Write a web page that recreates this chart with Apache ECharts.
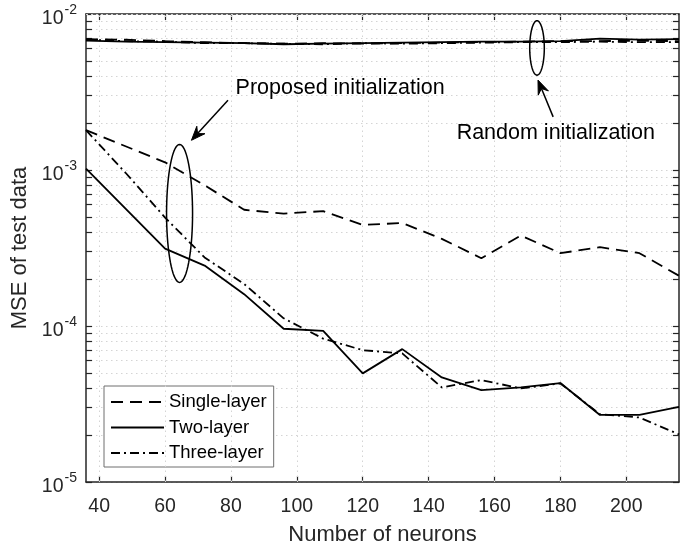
<!DOCTYPE html>
<html>
<head>
<meta charset="utf-8">
<script src="https://cdn.jsdelivr.net/npm/echarts@6/dist/echarts.min.js"></script>
<style>
html,body{margin:0;padding:0;background:#fff;}
#chart{width:688px;height:546px;}
</style>
</head>
<body>
<div id="chart"></div>
<script>
// ---------------- data ----------------
const neurons = [36, 48, 60, 72, 84, 96, 108, 120, 132, 144, 156, 168, 180, 192, 204, 216];

// proposed initialization
const singleProposed = [1.80e-3, 1.42e-3, 1.12e-3, 7.98e-4, 5.56e-4, 5.25e-4, 5.45e-4, 4.45e-4, 4.57e-4, 3.62e-4, 2.72e-4, 3.80e-4, 2.93e-4, 3.20e-4, 2.93e-4, 2.10e-4];
const twoProposed    = [1.02e-3, 5.65e-4, 3.13e-4, 2.44e-4, 1.60e-4, 9.6e-5, 9.3e-5, 4.97e-5, 7.11e-5, 4.68e-5, 3.88e-5, 4.04e-5, 4.31e-5, 2.69e-5, 2.69e-5, 3.03e-5];
const threeProposed  = [1.80e-3, 9.6e-4, 4.95e-4, 2.75e-4, 1.86e-4, 1.12e-4, 8.3e-5, 7.0e-5, 6.67e-5, 4.04e-5, 4.5e-5, 3.98e-5, 4.28e-5, 2.72e-5, 2.59e-5, 2.02e-5];

// random initialization
const singleRandom = [6.9e-3, 6.85e-3, 6.7e-3, 6.6e-3, 6.5e-3, 6.45e-3, 6.5e-3, 6.45e-3, 6.5e-3, 6.55e-3, 6.6e-3, 6.65e-3, 6.7e-3, 6.7e-3, 6.75e-3, 6.7e-3];
const twoRandom    = [6.75e-3, 6.65e-3, 6.6e-3, 6.55e-3, 6.5e-3, 6.4e-3, 6.45e-3, 6.5e-3, 6.55e-3, 6.6e-3, 6.65e-3, 6.65e-3, 6.7e-3, 6.95e-3, 6.85e-3, 6.9e-3];
const threeRandom  = [6.85e-3, 6.7e-3, 6.65e-3, 6.5e-3, 6.5e-3, 6.45e-3, 6.4e-3, 6.5e-3, 6.45e-3, 6.5e-3, 6.55e-3, 6.6e-3, 6.6e-3, 6.65e-3, 6.6e-3, 6.6e-3];

const seriesNames = ['Single-layer', 'Two-layer', 'Three-layer'];

// axes
const xTickValues = [40, 60, 80, 100, 120, 140, 160, 180, 200];
const yMajorTicks = [1e-5, 1e-4, 1e-3, 1e-2];
const yMinorTicks = [2e-5, 3e-5, 4e-5, 5e-5, 6e-5, 7e-5, 8e-5, 9e-5,
                     2e-4, 3e-4, 4e-4, 5e-4, 6e-4, 7e-4, 8e-4, 9e-4,
                     2e-3, 3e-3, 4e-3, 5e-3, 6e-3, 7e-3, 8e-3, 9e-3];
const xTitle = 'Number of neurons';
const yTitle = 'MSE of test data';

// annotations (in data coordinates)
const annotationTexts = ['Proposed initialization', 'Random initialization'];
const annotationTextAt = [[81.4, 3.35e-3], [148.5, 1.73e-3]];
const ellipseCenters = [[64.4, 5.27e-4], [172.9, 6.06e-3]];
const ellipseRadiiPx = [[13, 69], [7.3, 27.2]];
const arrowTails = [[79.1, 2.80e-3], [177.8, 2.19e-3]];
const arrowTips = [[68.0, 1.55e-3], [173.2, 3.77e-3]];

// ---------------- chart ----------------
const FONT = '"Liberation Sans", Arial, Helvetica, sans-serif';
const AXIS_COLOR = '#262626';
const GRID_COLOR = '#d4d4d4';
const dashTypes = [[12, 7], 'solid', [9, 4, 2, 4]];

function pairs(ys) { return neurons.map((x, i) => [x, ys[i]]); }

function lineSeries(name, ys, idx) {
  return {
    name: name,
    type: 'line',
    data: pairs(ys),
    symbol: 'none',
    showSymbol: false,
    z: 10,
    animation: false,
    lineStyle: { color: '#000', width: 1.8, type: dashTypes[idx] },
    itemStyle: { color: 'rgba(0,0,0,0)', borderColor: 'rgba(0,0,0,0)' },
    emphasis: { disabled: true }
  };
}

const chart = echarts.init(document.getElementById('chart'), null, { renderer: 'canvas' });

const sharedX = { type: 'value', min: 36, max: 216 };
const sharedY = { type: 'log', logBase: 10, min: 1e-5, max: 1e-2 };
const axisLineStyle = { color: AXIS_COLOR, width: 1.5 };

const option = {
  animation: false,
  backgroundColor: '#fff',
  textStyle: { fontFamily: FONT },
  grid: { left: 86, right: 9, top: 14, bottom: 64, containLabel: false, outerBoundsMode: 'none' },
  legend: {
    data: seriesNames,
    orient: 'vertical',
    left: 104,
    top: 386,
    backgroundColor: '#fff',
    borderColor: '#6f6f6f',
    borderWidth: 1,
    borderRadius: 0,
    padding: [6, 7, 4, 6],
    itemWidth: 53,
    itemHeight: 14,
    itemGap: 5.5,
    selectedMode: false,
    itemStyle: { opacity: 0, color: 'rgba(0,0,0,0)', borderColor: 'rgba(0,0,0,0)' },
    lineStyle: { color: '#000', opacity: 1 },
    textStyle: { fontSize: 18.5, color: '#000', fontFamily: FONT, lineHeight: 20 }
  },
  xAxis: [
    Object.assign({}, sharedX, {
      position: 'bottom',
      name: xTitle,
      nameLocation: 'middle',
      nameGap: 42,
      nameTextStyle: { fontSize: 22, color: AXIS_COLOR, fontFamily: FONT },
      axisLine: { show: true, onZero: false, lineStyle: axisLineStyle },
      axisTick: { show: true, inside: true, length: 6, lineStyle: { color: AXIS_COLOR, width: 1.2 }, customValues: xTickValues },
      axisLabel: { show: true, customValues: xTickValues, fontSize: 19.5, color: AXIS_COLOR, margin: 15, fontFamily: FONT },
      splitLine: { show: false }
    }),
    Object.assign({}, sharedX, {
      position: 'top',
      axisLine: { show: true, onZero: false, lineStyle: axisLineStyle },
      axisTick: { show: true, inside: true, length: 6, lineStyle: { color: AXIS_COLOR, width: 1.2 }, customValues: xTickValues },
      axisLabel: { show: false },
      splitLine: { show: false }
    })
  ],
  yAxis: [
    Object.assign({}, sharedY, {
      position: 'left',
      name: yTitle,
      nameLocation: 'middle',
      nameGap: 46,
      nameTextStyle: { fontSize: 22, color: AXIS_COLOR, fontFamily: FONT },
      axisLine: { show: true, onZero: false, lineStyle: axisLineStyle },
      axisTick: { show: true, inside: true, length: 6, lineStyle: { color: AXIS_COLOR, width: 1.2 }, customValues: yMajorTicks.concat(yMinorTicks) },
      axisLabel: {
        show: true,
        customValues: yMajorTicks,
        margin: 9,
        color: AXIS_COLOR,
        formatter: function (v) {
          const e = Math.round(Math.log10(v));
          return '{b|10}{s|' + (e < 0 ? '-' : '') + Math.abs(e) + '}';
        },
        rich: {
          b: { fontSize: 19.5, fontFamily: FONT, color: AXIS_COLOR, lineHeight: 20, padding: [10, 0, 0, 0] },
          s: { fontSize: 14, fontFamily: FONT, color: AXIS_COLOR, lineHeight: 14, padding: [4, 0, 12, 1] }
        }
      },
      splitLine: { show: true, lineStyle: { color: GRID_COLOR, width: 1, type: [1.5, 3.5] } }
    }),
    Object.assign({}, sharedY, {
      position: 'right',
      axisLine: { show: true, onZero: false, lineStyle: axisLineStyle },
      axisTick: { show: true, inside: true, length: 6, lineStyle: { color: AXIS_COLOR, width: 1.2 }, customValues: yMajorTicks.concat(yMinorTicks) },
      axisLabel: { show: false },
      splitLine: { show: false }
    })
  ],
  series: [
    {
      type: 'line',
      data: [],
      silent: true,
      z: 1,
      animation: false,
      markLine: {
        silent: true,
        animation: false,
        symbol: ['none', 'none'],
        label: { show: false },
        emphasis: { disabled: true },
        lineStyle: { color: GRID_COLOR, width: 1, type: [1.5, 3.5] },
        data: xTickValues.map(v => ({ xAxis: v })).concat(yMinorTicks.map(v => ({ yAxis: v })))
      }
    },
    lineSeries(seriesNames[0], singleProposed, 0),
    lineSeries(seriesNames[1], twoProposed, 1),
    lineSeries(seriesNames[2], threeProposed, 2),
    lineSeries(seriesNames[0], singleRandom, 0),
    lineSeries(seriesNames[1], twoRandom, 1),
    lineSeries(seriesNames[2], threeRandom, 2)
  ]
};

chart.setOption(option);

// ---------------- annotations ----------------
function toPx(p) { return chart.convertToPixel({ gridIndex: 0 }, p); }

function ellipsePoly(c, r) {
  const pts = [];
  const n = 72;
  for (let k = 0; k < n; k++) {
    const t = 2 * Math.PI * k / n;
    pts.push([c[0] + r[0] * Math.cos(t), c[1] + r[1] * Math.sin(t)]);
  }
  return pts;
}

function arrowEls(tail, tip, L, W) {
  const dx = tip[0] - tail[0], dy = tip[1] - tail[1];
  const len = Math.hypot(dx, dy);
  const ux = dx / len, uy = dy / len, nx = -uy, ny = ux;
  const base = [tip[0] - L * ux, tip[1] - L * uy];
  const notch = [tip[0] - 0.65 * L * ux, tip[1] - 0.65 * L * uy];
  return [
    { type: 'line', silent: true, z: 20, shape: { x1: tail[0], y1: tail[1], x2: notch[0], y2: notch[1] }, style: { stroke: '#000', lineWidth: 1.5 } },
    { type: 'polygon', silent: true, z: 20, shape: { points: [tip, [base[0] + nx * W / 2, base[1] + ny * W / 2], notch, [base[0] - nx * W / 2, base[1] - ny * W / 2]] }, style: { fill: '#000', stroke: '#000', lineWidth: 1 } }
  ];
}

const els = [];
for (let i = 0; i < 2; i++) {
  const c = toPx(ellipseCenters[i]);
  els.push({ type: 'polygon', silent: true, z: 20, shape: { points: ellipsePoly(c, ellipseRadiiPx[i]) }, style: { fill: null, stroke: '#000', lineWidth: 1.5 } });
  const tail = toPx(arrowTails[i]), tip = toPx(arrowTips[i]);
  arrowEls(tail, tip, 14, 11).forEach(e => els.push(e));
  const tp = toPx(annotationTextAt[i]);
  els.push({ type: 'text', silent: true, z: 20, x: tp[0], y: tp[1], style: { text: annotationTexts[i], fontSize: 21.5, fontFamily: FONT, fill: '#000', align: 'left', verticalAlign: 'middle' } });
}
chart.setOption({ graphic: { elements: els } });
</script>
</body>
</html>
